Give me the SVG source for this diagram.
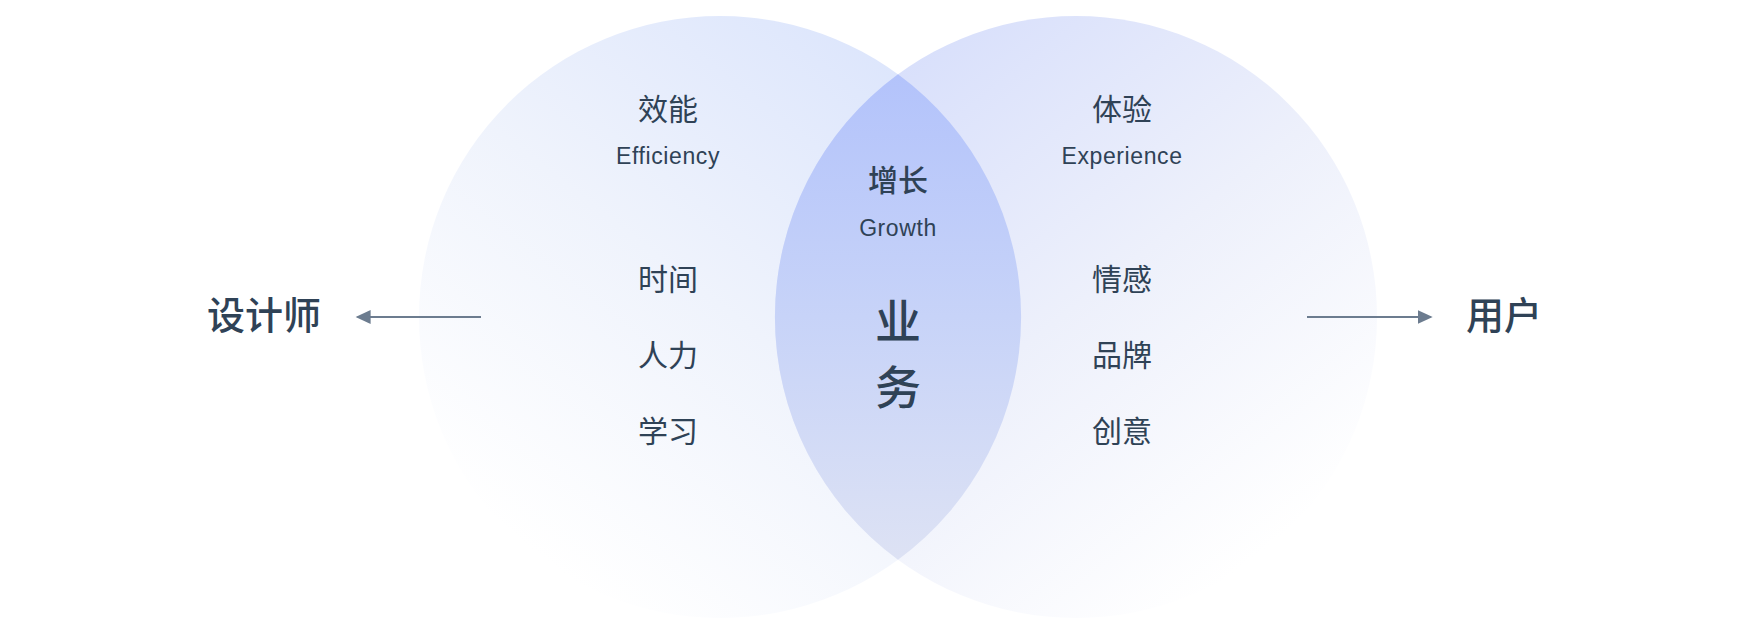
<svg xmlns="http://www.w3.org/2000/svg" width="1748" height="634" viewBox="0 0 1748 634">
  <defs>
    <linearGradient id="gLeft" x1="0.9" y1="0.02" x2="0.15" y2="0.98">
      <stop offset="0" stop-color="#d9e3fc"/>
      <stop offset="0.5" stop-color="#eff3fc"/>
      <stop offset="0.92" stop-color="#ffffff"/>
    </linearGradient>
    <linearGradient id="gRight" x1="0.1" y1="0.02" x2="0.85" y2="0.98">
      <stop offset="0" stop-color="#d4dcfb"/>
      <stop offset="0.5" stop-color="#edf0fb"/>
      <stop offset="0.92" stop-color="#ffffff"/>
    </linearGradient>
    <linearGradient id="gLens" gradientUnits="userSpaceOnUse" x1="898" y1="74" x2="898" y2="559">
      <stop offset="0" stop-color="#b3c3fb"/>
      <stop offset="0.5" stop-color="#c7d3f8"/>
      <stop offset="1" stop-color="#dde2f4"/>
    </linearGradient>
    <marker id="arrow" markerUnits="userSpaceOnUse" markerWidth="16" markerHeight="14" refX="13" refY="7" orient="auto">
      <path d="M0,0 L15,7 L0,14 Z" fill="#6c7c8f"/>
    </marker>
    <style>
      .cjk { font-family: "Noto Sans CJK SC", "Noto Sans", sans-serif; fill: #2f4256; text-anchor: middle; }
      .item { font-size: 30px; font-weight: 400; }
      .en { font-family: "Liberation Sans", Arial, sans-serif; font-size: 23px; letter-spacing: 0.6px; fill: #2f4256; text-anchor: middle; }
      .side { font-size: 38px; font-weight: 500; }
      .core { font-size: 46px; font-weight: 500; }
      .conn { stroke: #6c7c8f; stroke-width: 2; fill: none; marker-end: url(#arrow); }
    </style>
  </defs>

  <rect width="1748" height="634" fill="#ffffff"/>

  <g id="circle-left">
    <circle cx="720" cy="317" r="301" fill="url(#gLeft)"/>
  </g>
  <g id="circle-right">
    <circle cx="1076" cy="317" r="301" fill="url(#gRight)"/>
  </g>
  <g id="overlap">
    <path d="M898,74.2 A301,301 0 0 1 898,559.8 A301,301 0 0 1 898,74.2 Z" fill="url(#gLens)"/>
  </g>

  <g id="connectors">
    <line class="conn" x1="481" y1="317" x2="357.6" y2="317"/>
    <line class="conn" x1="1307" y1="317" x2="1430.7" y2="317"/>
  </g>

  <g id="node-designer">
    <text class="cjk side" x="264" y="329">设计师</text>
  </g>
  <g id="node-user">
    <text class="cjk side" x="1504" y="329">用户</text>
  </g>

  <g id="node-efficiency">
    <text class="cjk item" x="668" y="120">效能</text>
    <text class="en" x="668" y="164">Efficiency</text>
    <text class="cjk item" x="668" y="290">时间</text>
    <text class="cjk item" x="668" y="366">人力</text>
    <text class="cjk item" x="668" y="442">学习</text>
  </g>

  <g id="node-experience">
    <text class="cjk item" x="1122" y="120">体验</text>
    <text class="en" x="1122" y="164">Experience</text>
    <text class="cjk item" x="1122" y="290">情感</text>
    <text class="cjk item" x="1122" y="366">品牌</text>
    <text class="cjk item" x="1122" y="442">创意</text>
  </g>

  <g id="node-growth">
    <text class="cjk item" x="898" y="191" style="font-weight:500">增长</text>
    <text class="en" x="898" y="236">Growth</text>
    <text class="cjk core" x="898" y="338">业</text>
    <text class="cjk core" x="898" y="404">务</text>
  </g>
</svg>
